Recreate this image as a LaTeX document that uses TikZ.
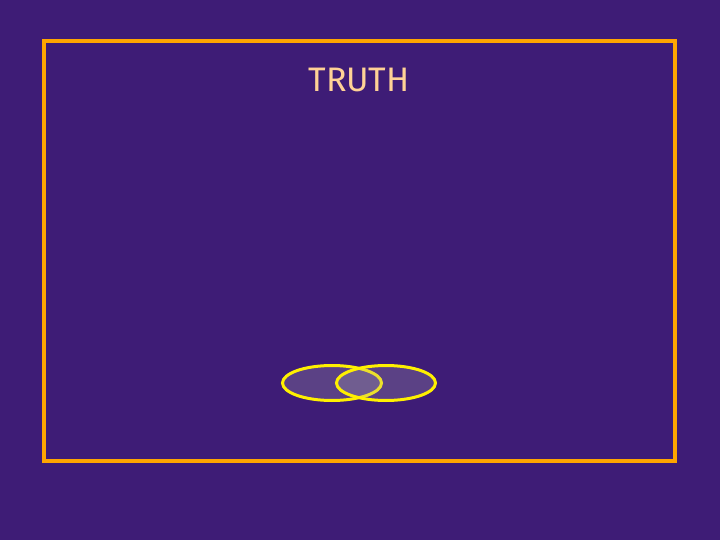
\documentclass[tikz,border=0pt]{standalone}
\usepackage{fontspec}
\setsansfont{Fira Sans}
\usetikzlibrary{shapes.geometric}
\definecolor{bgpurple}{RGB}{62,28,118}
\definecolor{frameorange}{RGB}{255,165,0}
\definecolor{peach}{RGB}{255,210,150}
\definecolor{setyellow}{RGB}{255,240,0}
\tikzset{
  set/.style={ellipse,draw=setyellow,line width=3pt,fill=gray!60,fill opacity=0.25,
    minimum width=99pt,minimum height=35pt,inner sep=0pt}
}
\begin{document}
\begin{tikzpicture}[x=1pt,y=-1pt]
  \fill[bgpurple] (0,0) rectangle (720,540);
  \draw[frameorange,line width=3.5pt] (44,41) rectangle (675,461);
  \node[peach,font=\sffamily\fontsize{34}{34}\selectfont] (title) at (359,80) {TRUTH};
  \node[set] (left) at (332,383) {};
  \node[set] (right) at (386,383) {};
\end{tikzpicture}
\end{document}
